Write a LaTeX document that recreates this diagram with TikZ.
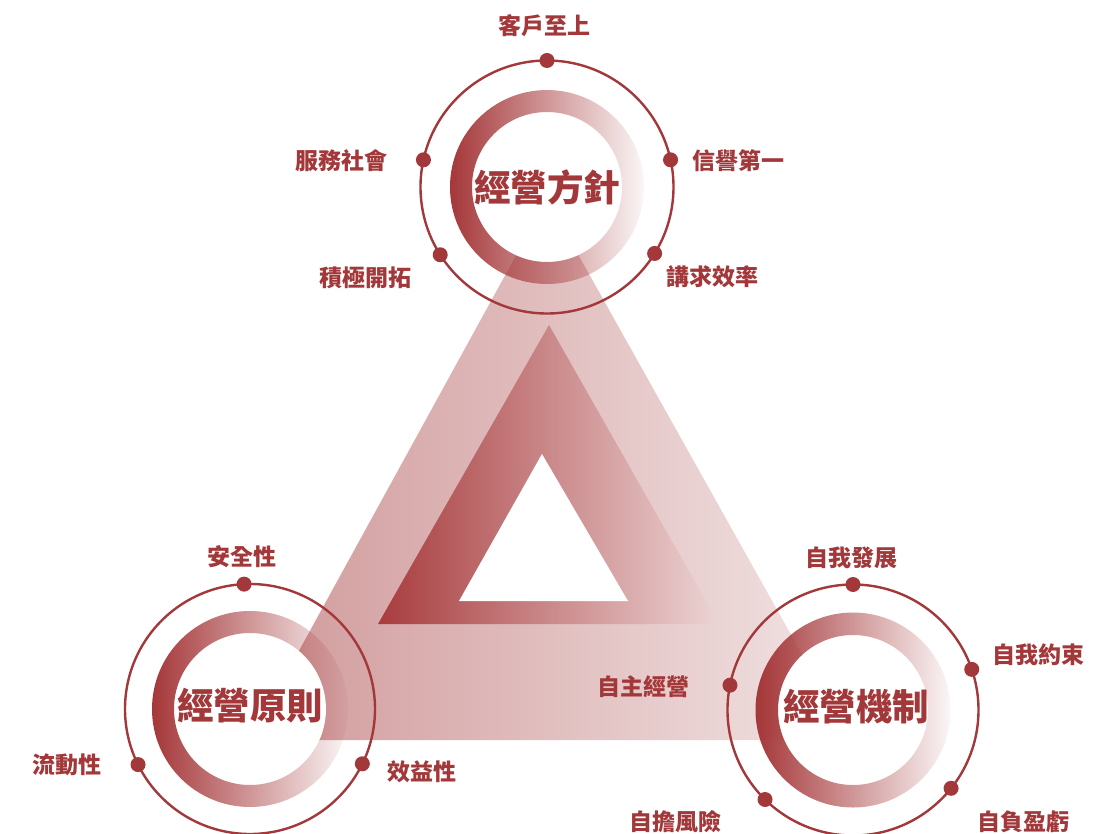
\documentclass[tikz,border=0pt]{standalone}
\usepackage{fontspec}
\newfontfamily\cjk{Noto Sans CJK TC}
\usetikzlibrary{calc,fadings}
\definecolor{dred}{RGB}{163,56,58}
\definecolor{ringC}{RGB}{165,55,57}
\definecolor{bigL}{RGB}{163,52,54}
\definecolor{bigR}{RGB}{231,203,204}
\definecolor{inL}{RGB}{168,60,62}
\definecolor{inR}{RGB}{236,212,212}
\tikzfading[name=ringfade, left color=transparent!0, right color=transparent!96]
\begin{document}
\begin{tikzpicture}[x=1pt,y=-1pt,
  lbl/.style={font=\cjk\bfseries\fontsize{23}{23}\selectfont, text=dred, inner sep=0pt},
  ttl/.style={font=\cjk\bfseries\fontsize{36.5}{36.5}\selectfont, text=dred, inner sep=0pt},
  dotnode/.style={circle, fill=dred, inner sep=0pt, minimum size=15pt},
  orbit/.style={draw=dred, line width=2.4pt},
  ringshade/.style={fill=ringC, path fading=ringfade, fit fading=true, even odd rule}]
\useasboundingbox (0,0) rectangle (1096,834);
\fill[white] (0,0) rectangle (1096,834);
\coordinate (T) at (547,187);
\coordinate (L) at (250,709);
\coordinate (R) at (853,710);
% big translucent triangle
\shade[left color=bigL, right color=bigR, opacity=0.5] (547,199) -- (250,740) -- (850,740) -- cycle;
% inner triangle with hole
\shade[left color=inL, right color=inR] (549,325) -- (378,624) -- (719,624) -- cycle;
\fill[white] (542,454) -- (459,601) -- (628,601) -- cycle;
% white centres
\fill[white] (T) circle[radius=75];
\fill[white] (L) circle[radius=76];
\fill[white] (R) circle[radius=75];
% gradient rings (fading to transparent on the right)
\fill[ringshade] (T) circle[radius=97] (T) circle[radius=75];
\fill[ringshade] (L) circle[radius=98] (L) circle[radius=76];
\fill[ringshade] (R) circle[radius=97.5] (R) circle[radius=75];
% orbits
\draw[orbit] (T) circle[radius=126.5];
\draw[orbit] (L) circle[radius=125];
\draw[orbit] (R) circle[radius=125.5];
% dots (y axis points down, so angles are negated)
\node[dotnode] (t1) at ($(T)+(-90:126.5)$) {};
\node[dotnode] (t2) at ($(T)+(-167.6:126.5)$) {};
\node[dotnode] (t3) at ($(T)+(-12.4:126.5)$) {};
\node[dotnode] (t4) at ($(T)+(-212.4:126.5)$) {};
\node[dotnode] (t5) at ($(T)+(31.7:126.5)$) {};
\node[dotnode] (l1) at ($(L)+(-92.7:125)$) {};
\node[dotnode] (l2) at ($(L)+(-206.4:125)$) {};
\node[dotnode] (l3) at ($(L)+(26:125)$) {};
\node[dotnode] (r1) at ($(R)+(-90:125.5)$) {};
\node[dotnode] (r2) at ($(R)+(-168.6:125.5)$) {};
\node[dotnode] (r3) at ($(R)+(-18.9:125.5)$) {};
\node[dotnode] (r4) at ($(R)+(38.6:125.5)$) {};
\node[dotnode] (r5) at ($(R)+(134.5:125.5)$) {};
% titles
\node[ttl] (tt) at (547,187) {經營方針};
\node[ttl] (lt) at (250,706) {經營原則};
\node[ttl] (rt) at (856,707) {經營機制};
% labels
\node[lbl] (a1) at (544,26) {客戶至上};
\node[lbl] (a2) at (341,161) {服務社會};
\node[lbl] (a3) at (738,161) {信譽第一};
\node[lbl] (a4) at (365,278) {積極開拓};
\node[lbl] (a5) at (712,277) {講求效率};
\node[lbl] (b1) at (242,557) {安全性};
\node[lbl] (b2) at (67,765) {流動性};
\node[lbl] (b3) at (422,772) {效益性};
\node[lbl] (c1) at (851,558) {自我發展};
\node[lbl] (c2) at (1038,655) {自我約束};
\node[lbl] (c3) at (643,687) {自主經營};
\node[lbl] (c4) at (675,822) {自擔風險};
\node[lbl] (c5) at (1023,822) {自負盈虧};
\end{tikzpicture}
\end{document}
